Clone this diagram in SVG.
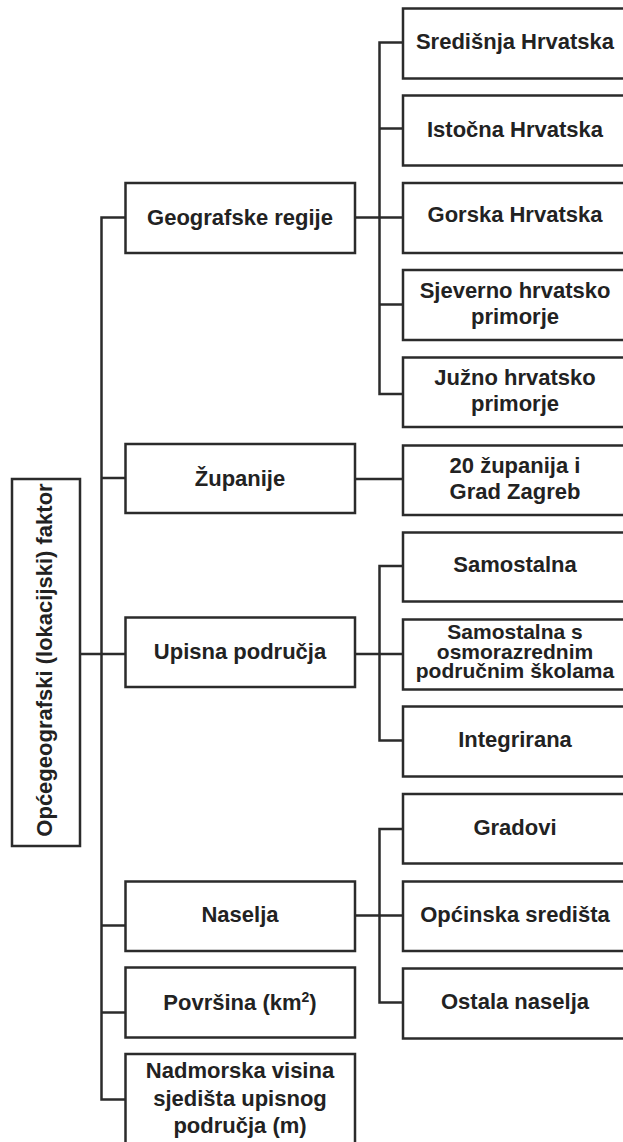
<svg xmlns="http://www.w3.org/2000/svg" width="623" height="1142" viewBox="0 0 623 1142">
<style>
.n rect{fill:#fff;stroke:#2b2b2b;stroke-width:2.5}
.c path{fill:none;stroke:#2b2b2b;stroke-width:2.5}
text{font-family:"Liberation Sans",Arial,sans-serif;font-weight:bold;font-size:22px;fill:#222;text-anchor:middle}
</style>
<rect x="0" y="0" width="623" height="1142" fill="#ffffff"/>
<g class="c" id="connectors">
<path d="M125.5,217.5H101.5V1099.5H125.5"/>
<path d="M101.5,478H125.5"/>
<path d="M80,654H125.5"/>
<path d="M101.5,925.5H125.5"/>
<path d="M101.5,1012.5H125.5"/>
<path d="M403,42.5H379.5V394H403"/>
<path d="M355,217.5H403M379.5,128.5H403M379.5,304.5H403"/>
<path d="M355,479H403"/>
<path d="M403,566H379.5V740.5H403M355,654H403"/>
<path d="M403,829H379.5V1002.5H403M355,915.5H403"/>
</g>
<g class="n" id="n-root"><rect x="12" y="479" width="68" height="367"/><text transform="translate(51.5,660) rotate(-90)">Općegeografski (lokacijski) faktor</text></g>
<g class="n" id="n-geo"><rect x="125.5" y="183" width="229.5" height="70"/><text x="240" y="225">Geografske regije</text></g>
<g class="n" id="n-zup"><rect x="125.5" y="444" width="229.5" height="69"/><text x="240" y="486">Županije</text></g>
<g class="n" id="n-upis"><rect x="125.5" y="617.5" width="229.5" height="69.5"/><text x="240" y="659">Upisna područja</text></g>
<g class="n" id="n-nas"><rect x="125.5" y="881.5" width="229.5" height="69.5"/><text x="240" y="922">Naselja</text></g>
<g class="n" id="n-pov"><rect x="125.5" y="967.5" width="229.5" height="70"/><text x="240" y="1010">Površina (km<tspan font-size="14" dy="-8">2</tspan><tspan dy="8">)</tspan></text></g>
<g class="n" id="n-nad"><rect x="125.5" y="1054" width="229.5" height="100"/><text x="240" y="1078">Nadmorska visina</text><text x="240" y="1106">sjedišta upisnog</text><text x="240" y="1133">područja (m)</text></g>
<g class="n" id="n-sred"><rect x="403" y="8.5" width="230" height="70"/><text x="515" y="49">Središnja Hrvatska</text></g>
<g class="n" id="n-ist"><rect x="403" y="95.5" width="230" height="70"/><text x="515" y="137">Istočna Hrvatska</text></g>
<g class="n" id="n-gor"><rect x="403" y="183" width="230" height="70"/><text x="515" y="222">Gorska Hrvatska</text></g>
<g class="n" id="n-sjev"><rect x="403" y="270" width="230" height="70"/><text x="515" y="298">Sjeverno hrvatsko</text><text x="515" y="324">primorje</text></g>
<g class="n" id="n-juz"><rect x="403" y="357.5" width="230" height="69.5"/><text x="515" y="385">Južno hrvatsko</text><text x="515" y="411">primorje</text></g>
<g class="n" id="n-20"><rect x="403" y="445.5" width="230" height="69.5"/><text x="515" y="473">20 županija i</text><text x="515" y="499">Grad Zagreb</text></g>
<g class="n" id="n-sam"><rect x="403" y="532.5" width="230" height="69"/><text x="515" y="572">Samostalna</text></g>
<g class="n" id="n-sams"><rect x="403" y="619.5" width="230" height="70"/><text x="515" y="639" style="font-size:21px">Samostalna s</text><text x="515" y="659" style="font-size:21px">osmorazrednim</text><text x="515" y="678" style="font-size:21px">područnim školama</text></g>
<g class="n" id="n-int"><rect x="403" y="706.5" width="230" height="70"/><text x="515" y="747">Integrirana</text></g>
<g class="n" id="n-grad"><rect x="403" y="794" width="230" height="69.5"/><text x="515" y="835">Gradovi</text></g>
<g class="n" id="n-opc"><rect x="403" y="881.5" width="230" height="69.5"/><text x="515" y="922">Općinska središta</text></g>
<g class="n" id="n-ost"><rect x="403" y="968.5" width="230" height="70"/><text x="515" y="1009">Ostala naselja</text></g>
</svg>
